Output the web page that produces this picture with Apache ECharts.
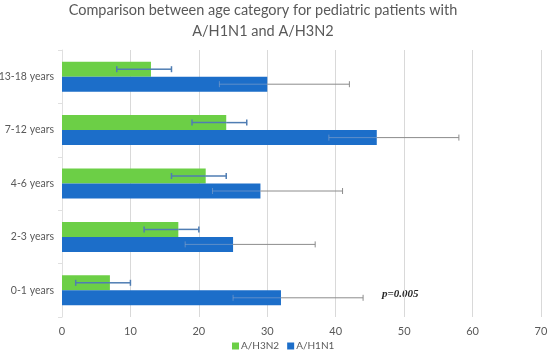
<!DOCTYPE html>
<html><head><meta charset="utf-8">
<script src="https://cdn.jsdelivr.net/npm/echarts@6/dist/echarts.min.js"></script>
<style>html,body{margin:0;padding:0;background:#fff}#c{width:550px;height:359px}</style>
</head><body><div id="c"></div>
<script>
var categories = ['0-1 years', '2-3 years', '4-6 years', '7-12 years', '13-18 years'];
var h3n2 = [7, 17, 21, 24, 13];
var h3n2Low = [2, 12, 16, 19, 8];
var h3n2High = [10, 20, 24, 27, 16];
var h1n1 = [32, 25, 29, 46, 30];
var h1n1Low = [25, 18, 22, 39, 23];
var h1n1High = [44, 37, 41, 58, 42];
var xTicks = [0, 10, 20, 30, 40, 50, 60, 70];
var titleText = 'Comparison between age category for pediatric patients with\nA/H1N1 and A/H3N2';
var pText = 'p=0.005';

var BAR_W = 15;
var GREEN = '#6ccf46', BLUE = '#1c6ec9';

function errItem(values, lows, highs, side, inColor, outColor, width) {
  return function (params, api) {
    var i = params.dataIndex;
    var c = api.coord([0, i]);
    var y = c[1] + side * BAR_W / 2;
    var xl = api.coord([lows[i], i])[0];
    var xh = api.coord([highs[i], i])[0];
    var xv = api.coord([values[i], i])[0];
    var cap = 3;
    var children = [
      {type: 'line', shape: {x1: xl, y1: y, x2: xv, y2: y}, style: {stroke: inColor, lineWidth: width}},
      {type: 'line', shape: {x1: xv, y1: y, x2: xh, y2: y}, style: {stroke: outColor, lineWidth: width}},
      {type: 'line', shape: {x1: xl, y1: y - cap, x2: xl, y2: y + cap}, style: {stroke: inColor, lineWidth: width}},
      {type: 'line', shape: {x1: xh, y1: y - cap, x2: xh, y2: y + cap}, style: {stroke: outColor, lineWidth: width}}
    ];
    return {type: 'group', children: children};
  };
}

var chart = echarts.init(document.getElementById('c'));
chart.setOption({
  animation: false,
  textStyle: {fontFamily: 'Lato, "Open Sans", sans-serif'},
  title: {
    text: titleText, left: 263, textAlign: 'center', top: 0, padding: 0,
    textStyle: {fontSize: 14.5, fontWeight: 'normal', color: '#595959', lineHeight: 21, fontFamily: 'Lato'}
  },
  legend: {
    data: ['A/H3N2', 'A/H1N1'], bottom: 3, left: 227,
    itemWidth: 7, itemHeight: 7, itemGap: 8, icon: 'rect',
    textStyle: {fontSize: 10, color: '#595959', padding: [0, 0, 0, -3]}
  },
  grid: {left: 62, right: 9, top: 50, bottom: 42, containLabel: false, outerBoundsMode: 'none'},
  xAxis: {
    type: 'value', min: 0, max: 70, interval: 10,
    axisLine: {show: false}, axisTick: {show: false},
    axisLabel: {color: '#595959', fontSize: 11, margin: 9,
      formatter: function (v) { return xTicks.indexOf(v) >= 0 ? String(v) : ''; }},
    splitLine: {lineStyle: {color: '#d9d9d9'}}
  },
  yAxis: {
    type: 'category', data: categories,
    axisLine: {lineStyle: {color: '#e0e0e0'}},
    axisTick: {show: true, length: 4, lineStyle: {color: '#e0e0e0'}},
    axisLabel: {color: '#595959', fontSize: 10.5, margin: 8}
  },
  series: [
    {name: 'A/H3N2', type: 'bar', data: h3n2, barWidth: BAR_W, barGap: '0%', itemStyle: {color: GREEN}, z: 2},
    {name: 'A/H1N1', type: 'bar', data: h1n1, barWidth: BAR_W, barGap: '0%', itemStyle: {color: BLUE}, z: 2},
    {name: 'errH1', type: 'custom', data: h1n1.map(function (v, i) { return [v, i]; }),
      renderItem: errItem(h1n1, h1n1Low, h1n1High, 1, 'rgba(150,170,200,0.55)', '#8c8c8c', 1), z: 5, silent: true},
    {name: 'errH3', type: 'custom', data: h3n2.map(function (v, i) { return [v, i]; }),
      renderItem: errItem(h3n2, h3n2Low, h3n2High, -1, '#4f7db3', '#4f7db3', 1.5), z: 5, silent: true}
  ],
  graphic: [{
    type: 'text', left: 382, top: 289,
    style: {text: pText, font: 'italic bold 11px "Liberation Serif", serif', fill: '#262626'}
  }]
});
</script></body></html>
